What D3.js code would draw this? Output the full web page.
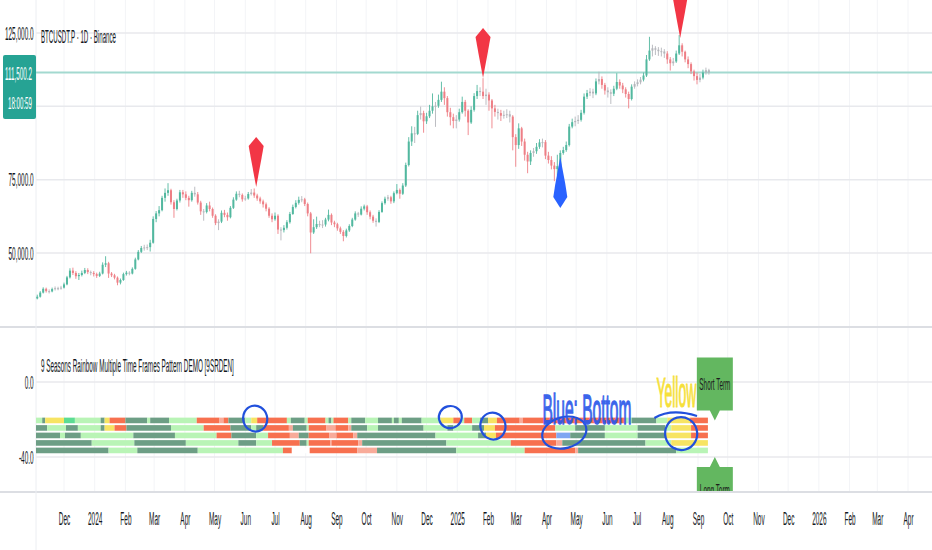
<!DOCTYPE html>
<html><head><meta charset="utf-8">
<script src="https://cdn.jsdelivr.net/npm/d3@7"></script>
<style>
body{margin:0;background:#fff;}
svg{display:block;font-family:"Liberation Sans",Arial,sans-serif;}
</style>
</head><body>
<svg id="c" width="932" height="550"></svg>
<script>
// ---------------- DATA ----------------
const seriesStart = "2023-11-04";   // first candle
const barDays = 3;                    // each candle spans 3 days
const firstOpen = 34.5;               // thousands USD
// closes / highs / lows in thousands of USD
const closes = [35.1,36.5,37.8,37.0,36.9,37.7,38.0,37.9,38.2,39.3,
41.7,44.0,43.2,42.1,42.5,43.2,44.2,43.5,43.2,42.8,
42.2,43.0,46.0,46.5,43.0,42.4,41.6,39.9,40.8,42.8,
43.3,43.0,44.6,47.8,50.4,51.7,51.9,52.0,53.5,61.6,
63.5,64.6,68.8,70.5,71.4,67.3,65.0,67.9,70.7,70.0,
68.8,68.0,70.5,70.0,67.2,64.2,64.0,66.2,65.0,62.7,
60.2,60.7,63.7,63.0,62.2,65.4,68.2,70.2,69.8,68.3,
68.6,70.1,70.6,69.6,68.6,67.6,66.6,65.1,62.7,61.5,
62.7,58.0,57.8,58.6,60.5,63.3,65.7,67.1,68.1,68.3,
66.7,63.5,57.0,58.8,59.9,59.5,59.7,61.4,63.0,60.4,
59.8,58.4,57.2,55.8,57.7,59.2,61.4,63.5,63.1,65.1,
65.9,63.9,62.4,61.0,60.6,64.0,67.0,68.5,69.0,67.6,
70.4,71.5,70.2,73.0,80.0,88.0,90.8,90.6,97.0,97.7,
94.9,96.6,98.5,100.0,100.2,102.2,105.0,102.8,98.0,96.3,
95.0,95.5,98.0,101.5,98.5,94.5,98.8,103.5,105.2,105.0,
103.5,104.0,102.0,99.3,98.1,97.7,96.8,97.1,97.3,96.5,
89.5,86.8,92.5,88.0,83.5,81.2,84.1,84.7,86.2,87.7,
87.8,83.2,81.7,79.8,78.6,79.6,84.1,85.1,86.8,93.1,
94.6,95.0,95.4,97.8,103.3,104.5,105.0,104.4,108.5,109.3,
107.3,105.4,104.8,104.3,106.0,108.3,107.1,105.8,104.2,102.5,
106.7,107.6,108.2,109.1,110.5,116.0,119.0,119.8,119.3,118.8,
118.7,118.0,116.0,114.7,115.3,118.0,120.8,118.6,116.0,114.4,
111.9,110.3,109.0,109.8,111.5,112.3,111.5];
const highs = [35.8,37.0,38.3,38.2,37.6,38.2,38.6,38.5,38.8,39.9,
42.2,44.8,45.0,43.8,43.2,44.0,44.9,44.8,44.0,43.8,
43.3,43.6,46.8,48.9,47.0,43.5,42.9,42.0,41.3,43.3,
43.9,43.8,45.1,48.4,51.0,52.4,52.8,52.9,54.5,62.5,
64.3,66.0,69.5,72.0,73.8,71.9,68.0,68.5,71.5,71.5,
71.0,69.5,71.2,72.6,70.8,67.8,65.0,67.0,67.5,65.5,
63.2,61.5,64.5,64.7,63.8,66.0,69.0,71.0,71.2,70.3,
69.5,70.8,71.8,72.0,70.2,69.2,68.2,67.2,65.6,63.5,
63.8,63.2,58.8,59.5,61.2,64.0,66.5,68.0,69.2,69.4,
68.8,67.2,64.0,61.5,62.4,61.0,61.2,62.0,64.8,63.5,
61.0,60.3,59.0,57.8,58.3,59.8,62.0,64.2,64.0,65.9,
66.5,66.4,64.5,63.0,61.8,64.6,67.6,69.2,69.8,69.5,
71.0,73.5,72.0,73.8,80.8,89.5,93.2,93.0,98.5,99.9,
98.5,97.8,100.5,104.4,101.5,104.0,108.4,106.5,103.5,99.5,
97.5,97.0,99.2,103.3,102.2,99.0,100.0,104.5,107.3,106.5,
109.6,106.0,104.8,102.5,100.5,99.2,98.8,98.5,99.0,98.5,
97.0,90.5,94.2,93.0,89.0,84.5,85.0,85.8,87.5,88.8,
89.0,88.5,84.5,83.0,81.0,83.5,85.0,86.2,88.0,94.0,
95.8,96.5,97.0,98.8,104.4,105.6,106.2,106.0,109.5,111.8,
110.2,108.0,106.5,105.8,107.0,111.3,109.2,108.0,106.5,105.0,
107.5,108.5,109.2,110.0,111.5,117.5,123.7,121.0,120.5,120.2,
120.0,119.5,118.8,116.8,116.5,119.0,124.3,121.5,119.0,117.0,
115.0,112.5,111.5,111.0,112.5,113.2,112.8];
const lows = [34.2,34.8,36.2,36.5,36.2,36.6,37.2,37.3,37.5,37.9,
39.0,41.3,42.5,41.2,40.8,42.0,42.8,42.8,42.4,42.0,
41.5,41.8,42.7,45.2,41.5,41.8,41.0,39.0,39.3,40.5,
42.3,42.4,42.7,44.3,47.5,50.0,50.8,51.0,50.5,53.2,
60.5,62.5,64.2,67.5,69.5,66.5,62.0,64.5,67.2,68.8,
68.0,65.8,67.5,69.2,66.5,63.0,61.0,63.5,64.2,62.0,
59.5,57.8,60.2,62.2,61.0,61.8,65.0,67.8,69.0,67.5,
67.8,68.2,69.6,68.8,67.8,66.8,65.5,64.2,62.0,60.5,
61.0,56.5,54.3,57.0,58.0,60.0,63.0,65.2,66.5,67.3,
66.0,62.5,49.9,56.5,58.2,58.8,58.5,59.0,60.8,59.5,
58.8,57.6,56.5,54.0,55.3,57.2,58.8,61.0,62.3,62.8,
64.5,63.0,61.5,60.3,59.0,60.2,63.7,66.5,67.8,66.8,
67.0,70.0,68.5,69.8,72.5,79.5,86.5,87.5,90.2,95.5,
91.0,94.0,96.0,97.5,93.0,99.5,101.5,100.5,96.5,93.5,
92.5,92.5,94.8,97.5,96.5,90.2,94.0,98.2,102.5,103.5,
102.5,100.5,98.5,92.5,96.5,95.5,95.0,95.8,96.0,94.5,
85.0,79.4,85.5,86.5,81.5,77.2,80.0,82.8,83.8,85.5,
86.0,82.0,80.5,78.5,74.5,76.5,79.0,83.5,84.5,86.3,
92.5,93.2,94.0,94.8,97.2,102.5,103.5,102.8,103.8,107.5,
106.0,104.0,103.0,100.8,103.5,105.5,106.0,104.5,103.0,99.3,
102.0,106.0,106.8,107.5,108.5,110.0,115.5,117.0,117.5,117.2,
117.0,116.5,114.5,112.2,113.8,114.8,117.5,117.0,115.0,113.0,
111.0,108.8,107.5,108.2,109.2,110.8,110.8];

const priceTicks = [125000, 100000, 75000, 50000];
const lastPrice = 111500.2;
const countdownText = "18:00:59";
const chartTitle = "BTCUSDT.P · 1D · Binance";
const paneTitle = "9 Seasons Rainbow Multiple Time Frames Pattern DEMO [9SRDEN]";

const topSignalDates = ["2024-06-12", "2025-01-27", "2025-08-14"];
const topSignalPrices = [72500, 109700, 123300];
const bottomSignalDates = ["2025-04-15"];
const bottomSignalPrices = [82700];

const timeTickDates = ["2023-12-01","2024-01-01","2024-02-01","2024-03-01","2024-04-01","2024-05-01","2024-06-01","2024-07-01","2024-08-01","2024-09-01","2024-10-01","2024-11-01","2024-12-01","2025-01-01","2025-02-01","2025-03-01","2025-04-01","2025-05-01","2025-06-01","2025-07-01","2025-08-01","2025-09-01","2025-10-01","2025-11-01","2025-12-01","2026-01-01","2026-02-01","2026-03-01","2026-04-01"];
const timeTickLabels = ["Dec","2024","Feb","Mar","Apr","May","Jun","Jul","Aug","Sep","Oct","Nov","Dec","2025","Feb","Mar","Apr","May","Jun","Jul","Aug","Sep","Oct","Nov","Dec","2026","Feb","Mar","Apr"];

// oscillator pane
const oscTicks = [0, -40];
const rowLevels = [-20.5, -24.5, -28.5, -32.5, -36.5];
// each row: [state, end day counted from seriesStart]
const row1 = [["l",5],["g",8],["y",27],["b",38],["l",64],["g",68],["y",73],["r",89],["g",111],["l",114],["g",133],["l",161],["r",184],["p",188],["r",193],["g",210],["l",216],["y",222],["r",252],["l",256],["g",270],["l",273],["r",291],["l",294],["g",297],["l",299],["r",314],["l",317],["g",331],["l",344],["g",358],["l",360],["g",365],["l",368],["g",388],["l",407],["y",420],["r",427],["l",431],["r",439],["l",447],["g",455],["y",464],["r",487],["p",490],["r",594],["l",600],["g",625],["l",636],["y",659],["r",677]];
const row2 = [["g",10],["l",29],["g",41],["l",64],["g",68],["y",78],["r",90],["g",135],["l",168],["r",195],["g",216],["l",221],["g",228],["r",254],["p",258],["g",272],["l",274],["r",292],["p",301],["r",314],["p",317],["g",333],["l",344],["g",390],["l",414],["g",420],["l",439],["g",451],["y",462],["r",523],["l",543],["g",573],["l",606],["g",634],["l",640],["y",660],["r",677]];
const row3 = [["g",23],["l",28],["g",44],["l",97],["g",139],["l",181],["r",196],["g",221],["l",233],["r",255],["p",264],["g",274],["r",295],["p",302],["r",319],["p",323],["g",402],["l",445],["g",453],["y",463],["r",524],["u",538],["g",573],["l",606],["g",634],["y",660],["r",677]];
const row4 = [["g",55],["l",98],["g",150],["l",203],["g",221],["l",237],["r",265],["g",272],["l",274],["r",296],["p",297],["r",324],["p",328],["g",413],["l",478],["r",524],["p",530],["g",614],["l",640],["y",677]];
const row5 = [["g",72],["l",101],["g",162],["l",248],["r",257],["w",275],["r",323],["p",343],["g",423],["l",492],["r",543],["p",546],["g",645],["l",677]];
const stateColors = {g:"#6d9e85", l:"#b9f4b6", r:"#f7704f", p:"#f8ab9a", y:"#f7e463", b:"#5cdc93", u:"#7fa6f2", w:"#ffffff"};

// hand-drawn annotations (date, value)
const circleDates = ["2024-06-11","2024-12-25","2025-02-06","2025-04-19","2025-08-15"];
const circleValues = [-19.5, -18.7, -23.5, -27.0, -27.5];
const circleRx = [12, 11.5, 12.5, 22.5, 16];
const circleRy = [13, 11, 13.5, 15.5, 16.5];
const arcDates = ["2025-07-19","2025-08-05","2025-08-31"];
const arcValues = [-19.2, -13.9, -18.1];
const noteBlue = {text:"Blue: Bottom", date:"2025-03-28", value:-22.6};
const noteYellow = {text:"Yellow", date:"2025-07-21", value:-13.3};
const labelDate = "2025-09-18";
const shortLabel = {text:"Short Term", value:-20.5};
const longLabel = {text:"Long Term", value:-40};

// ---------------- CHART ----------------
const parse = d3.utcParse("%Y-%m-%d");
const svg = d3.select("#c");
const W = 932, H = 550;
const left = 36;
const X = d3.scaleUtc().domain([parse("2023-12-01"), parse("2025-09-01")]).range([64, 698]);
const Yp = d3.scaleLinear().domain([50000, 125000]).range([253, 33]);
const Yo = d3.scaleLinear().domain([-40, 0]).range([457, 382]);
const SX = 0.34;
const FS = 19;
const txtColor = "#131722";

const defs = svg.append("defs");
defs.append("clipPath").attr("id","cp1").append("rect").attr("x",left).attr("y",0).attr("width",W-left).attr("height",326);
defs.append("clipPath").attr("id","cp2").append("rect").attr("x",left).attr("y",328).attr("width",W-left).attr("height",163);
defs.append("clipPath").attr("id","cpY").append("rect").attr("x",600).attr("y",330).attr("width",98).attr("height",160);

const dayMs = 86400000;
const t0 = parse(seriesStart).getTime();
const dateOfDay = d => new Date(t0 + d*dayMs);

// squeezed text helper: width given -> exact width, else scale factor
function stext(parent, x, y, str, o) {
  const g = parent.append("g").attr("transform", `translate(${x},${y})`);
  const t = g.append("text").attr("font-size", o.size || FS).attr("fill", o.fill || txtColor)
    .attr("text-anchor", o.anchor || "start").attr("dy", o.dy == null ? "0.35em" : o.dy).text(str);
  if (o.stroke) t.attr("stroke", o.stroke).attr("stroke-width", o.strokeWidth || 0.6);
  if (o.opacity) t.attr("opacity", o.opacity);
  const sx = o.width ? o.width / t.node().getComputedTextLength() : (o.sx || SX);
  t.attr("transform", `scale(${sx},1)`);
  return g;
}

// vertical faint gridlines
const tickDates = timeTickDates.map(parse);
svg.append("g").selectAll("line").data(tickDates).join("line")
  .attr("x1",d=>X(d)).attr("x2",d=>X(d)).attr("y1",0).attr("y2",491)
  .attr("stroke","#f3f4f7").attr("stroke-width",1);

// horizontal gridlines
svg.append("g").selectAll("line").data(priceTicks).join("line")
  .attr("x1",left).attr("x2",W).attr("y1",d=>Yp(d)).attr("y2",d=>Yp(d))
  .attr("stroke","#e8e9ed").attr("stroke-width",1.5);
svg.append("g").selectAll("line").data(oscTicks).join("line")
  .attr("x1",left).attr("x2",W).attr("y1",d=>Yo(d)).attr("y2",d=>Yo(d))
  .attr("stroke","#e8e9ed").attr("stroke-width",1.5);

// pane separators and left border
svg.append("line").attr("x1",0).attr("x2",W).attr("y1",327).attr("y2",327).attr("stroke","#dcdee3").attr("stroke-width",2);
svg.append("line").attr("x1",0).attr("x2",W).attr("y1",492).attr("y2",492).attr("stroke","#dcdee3").attr("stroke-width",2);
svg.append("line").attr("x1",left).attr("x2",left).attr("y1",0).attr("y2",H).attr("stroke","#eceef2").attr("stroke-width",1);

// last price line
svg.append("line").attr("x1",left).attr("x2",W).attr("y1",Yp(lastPrice)).attr("y2",Yp(lastPrice))
  .attr("stroke","#a3d9d0").attr("stroke-width",2);

// candles
const candles = closes.map((c,i)=>({
  date: dateOfDay(i*barDays),
  o: (i===0 ? firstOpen : closes[i-1])*1000, c: c*1000, h: highs[i]*1000, l: lows[i]*1000
}));
const upC = "#52b89f", dnC = "#ee7f86", flatC = "#b4b6bb";
const colorOf = d => Math.abs(d.c-d.o)/d.o < 0.009 ? flatC : (d.c >= d.o ? upC : dnC);
const gc = svg.append("g").attr("clip-path","url(#cp1)");
gc.selectAll("line.w").data(candles).join("line").attr("class","w")
  .attr("x1",d=>X(d.date)).attr("x2",d=>X(d.date))
  .attr("y1",d=>Yp(d.h)).attr("y2",d=>Yp(d.l))
  .attr("stroke",colorOf).attr("stroke-width",0.9);
gc.selectAll("rect").data(candles).join("rect")
  .attr("x",d=>X(d.date)-1).attr("width",2)
  .attr("y",d=>Yp(Math.max(d.o,d.c)))
  .attr("height",d=>Math.max(1, Math.abs(Yp(d.o)-Yp(d.c))))
  .attr("fill",colorOf);

// signal arrows
const downArrow = "M0,0 L-5,-27 L-7.5,-41 L0,-50 L7.5,-41 L5,-27 Z";
const upArrow = "M0,0 L-5,27 L-7,40 L0,51 L7,40 L5,27 Z";
gc.selectAll("path.top").data(topSignalDates).join("path").attr("class","top")
  .attr("d",downArrow).attr("fill","#f23645")
  .attr("transform",(d,i)=>`translate(${X(parse(d))},${Yp(topSignalPrices[i])})`);
gc.selectAll("path.bot").data(bottomSignalDates).join("path").attr("class","bot")
  .attr("d",upArrow).attr("fill","#2962ff")
  .attr("transform",(d,i)=>`translate(${X(parse(d))},${Yp(bottomSignalPrices[i])})`);

// oscillator rows
const rows = [row1,row2,row3,row4,row5];
const go = svg.append("g").attr("clip-path","url(#cp2)");
const bandH = Yo(0) - Yo(3);
rows.forEach((row, ri) => {
  const segs = row.map((s, k) => ({state:s[0], start: k===0 ? -1.5 : row[k-1][1], end: s[1]}));
  go.append("g").selectAll("rect").data(segs).join("rect")
    .attr("x", d => X(dateOfDay(d.start)))
    .attr("width", d => Math.max(0.5, X(dateOfDay(d.end)) - X(dateOfDay(d.start))))
    .attr("y", Yo(rowLevels[ri]) - bandH/2)
    .attr("height", bandH)
    .attr("fill", d => stateColors[d.state]);
});

// hand-drawn annotations
const blueInk = "#2150dc";
go.selectAll("ellipse").data(circleDates).join("ellipse")
  .attr("cx",d=>X(parse(d))).attr("cy",(d,i)=>Yo(circleValues[i]))
  .attr("rx",(d,i)=>circleRx[i]).attr("ry",(d,i)=>circleRy[i])
  .attr("fill","none").attr("stroke",blueInk).attr("stroke-width",2.2)
  .attr("transform",(d,i)=>`rotate(-15,${X(parse(d))},${Yo(circleValues[i])})`);
const ap = arcDates.map((d,i)=>[X(parse(d)), Yo(arcValues[i])]);
go.append("path").attr("d",`M${ap[0][0]},${ap[0][1]} Q${ap[1][0]},${ap[1][1]} ${ap[2][0]},${ap[2][1]}`)
  .attr("fill","none").attr("stroke",blueInk).attr("stroke-width",2.2);

stext(go, X(parse(noteBlue.date)), Yo(noteBlue.value), noteBlue.text,
  {size:43, fill:"#2b58ea", dy:0, width:89, stroke:"#2b58ea", strokeWidth:1.4, opacity:0.92});
stext(go.append("g").attr("clip-path","url(#cpY)"), X(parse(noteYellow.date)), Yo(noteYellow.value), noteYellow.text,
  {size:43, fill:"#f6e03a", dy:0, width:40, stroke:"#f6e03a", strokeWidth:1.2});

// Short / Long term labels
const lx = X(parse(labelDate));
const bw = 36, bh = 53, ph = 10, pw = 5;
const sTip = Yo(shortLabel.value);
go.append("path").attr("fill","#63b760")
  .attr("d",`M${lx},${sTip} L${lx-pw},${sTip-ph} L${lx-bw/2},${sTip-ph} L${lx-bw/2},${sTip-ph-bh} L${lx+bw/2},${sTip-ph-bh} L${lx+bw/2},${sTip-ph} L${lx+pw},${sTip-ph} Z`);
stext(go, lx, sTip-ph-bh/2, shortLabel.text, {size:16, fill:"#1c1c1c", anchor:"middle", width:31});
const lTip = Yo(longLabel.value);
go.append("path").attr("fill","#63b760")
  .attr("d",`M${lx},${lTip} L${lx-pw},${lTip+ph} L${lx-bw/2},${lTip+ph} L${lx-bw/2},${lTip+ph+bh} L${lx+bw/2},${lTip+ph+bh} L${lx+bw/2},${lTip+ph} L${lx+pw},${lTip+ph} Z`);
stext(go, lx, lTip+ph+bh/2-3, longLabel.text, {size:16, fill:"#1c1c1c", anchor:"middle", width:30});

// axes
const boxTop = 55, boxBottom = 119;
const styleAxis = g => { g.select(".domain").remove(); g.selectAll("line").remove();
  g.selectAll("text").attr("fill",txtColor).attr("font-size",FS).attr("font-family","Liberation Sans, Arial, sans-serif")
   .attr("transform",`scale(${SX},1)`); };
svg.append("g").attr("transform","translate(34,0)")
  .call(d3.axisLeft(Yp).tickValues(priceTicks.filter(v => Yp(v) < boxTop-6 || Yp(v) > boxBottom+6))
    .tickSize(0).tickPadding(1).tickFormat(d3.format(",.1f")))
  .call(styleAxis);
svg.append("g").attr("transform","translate(34,0)")
  .call(d3.axisLeft(Yo).tickValues(oscTicks).tickSize(0).tickPadding(1).tickFormat(d=>d.toFixed(1)))
  .call(styleAxis);
svg.append("g").attr("transform","translate(0,512)")
  .call(d3.axisBottom(X).tickValues(tickDates).tickSize(0).tickPadding(0).tickFormat((d,i)=>timeTickLabels[i]))
  .call(styleAxis);

// last price label
svg.append("rect").attr("x",3).attr("y",boxTop).attr("width",33).attr("height",boxBottom-boxTop).attr("rx",2).attr("fill","#26a394");
stext(svg, 5, 73, d3.format(",.1f")(lastPrice), {size:19, fill:"#fff", width:27});
stext(svg, 8, 103, countdownText, {size:17, fill:"#fff", width:24});

// titles
stext(svg, 41, 36, chartTitle, {size:FS, width:75});
stext(svg, 41, 365, paneTitle, {size:FS, width:193});
</script>
</body></html>
